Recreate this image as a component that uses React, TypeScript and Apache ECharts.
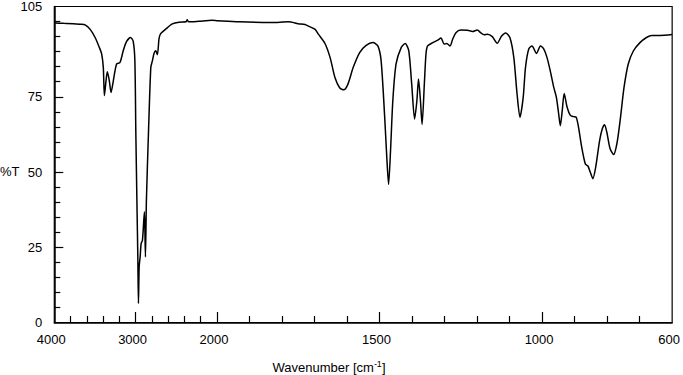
import React, { useEffect, useRef } from "react";
import * as echarts from "echarts";

// Spectrum (wavenumber in cm-1, transmittance in %T)
const wavenumbers = [
  3990, 3886, 3764, 3682, 3621, 3559, 3498, 3446, 3417, 3397, 3384, 3364, 3348, 3323, 3302, 3274,
  3234, 3192, 3152, 3112, 3063, 3030, 3009, 2997, 2984, 2972, 2965, 2956, 2944, 2932, 2916, 2899,
  2891, 2879, 2867, 2842, 2813, 2793, 2773, 2752, 2732, 2711, 2691, 2629, 2549, 2467, 2380, 2365,
  2350, 2222, 2059, 2000, 1933, 1832, 1780, 1750, 1729, 1719, 1698, 1688, 1668, 1652, 1637, 1622,
  1610, 1597, 1581, 1561, 1541, 1520, 1505, 1495, 1484, 1477, 1472, 1466, 1459, 1449, 1433, 1421,
  1410, 1401, 1392, 1385, 1380, 1374, 1369, 1362, 1357, 1352, 1336, 1321, 1311, 1301, 1293, 1283,
  1275, 1265, 1250, 1229, 1214, 1199, 1189, 1178, 1168, 1153, 1138, 1125, 1112, 1099, 1087, 1077,
  1068, 1058, 1051, 1041, 1031, 1017, 1005, 995, 985, 975, 964, 956, 949, 944, 938, 932,
  923, 913, 903, 895, 888, 878, 867, 859, 852, 844, 835, 823, 815, 808, 801, 791,
  780, 770, 760, 748, 735, 719, 699, 679, 663, 638, 600,
];
const transmittance = [
  99.5, 99.4, 99.3, 99.1, 98.9, 97.4, 94.7, 91.4, 89.2, 84.7, 75.4, 80.3, 83.3, 80.3, 76.4, 80.3,
  85.9, 86.4, 90.3, 93.3, 94.7, 93.5, 87, 62.8, 40.6, 20.7, 6.3, 18.6, 21.8, 26.2, 27.3, 34,
  36.8, 21.8, 40.6, 62.7, 84.7, 87, 89.5, 90.3, 89.0, 94.5, 96.0, 97.5, 99.2, 99.8, 99.9, 100.6,
  99.9, 100.1, 100.4, 100.3, 99.9, 99.7, 99.9, 99.3, 99.0, 98.5, 97.4, 95.8, 92.8, 88.1, 81.4, 77.9,
  77.3, 79.2, 84.7, 89.7, 92.1, 93, 91.9, 87, 68.2, 53.8, 45.9, 57.1, 73.7, 85.9, 91.4, 92.7,
  90.3, 79.3, 67.6, 73.7, 80.9, 73.7, 65.8, 79.4, 89.2, 91.9, 93, 93.8, 94.5, 92.5, 92.7, 91.9,
  94.1, 96.3, 97.2, 97.1, 96.7, 97.2, 96.3, 95.6, 95.8, 95, 92.8, 95.1, 96.2, 94.7, 88.1, 76,
  68.2, 74.9, 84.8, 90.9, 91.9, 89.4, 91.9, 90.9, 88.1, 83.7, 78.1, 74.8, 69.3, 65.4, 70.4, 76.1,
  71.5, 68.8, 68.4, 68.2, 64.9, 58.2, 52.7, 52, 50, 47.8, 51.7, 60.5, 64.3, 65.7, 63.3, 57.8,
  55.8, 59.4, 67.1, 78.1, 85.9, 90.3, 93, 94.7, 95.4, 95.4, 95.7,
];

const xLabelValues = [4000, 3000, 2000, 1500, 1000, 600];
const xMajorTickValues = [3000, 2000, 1500, 1000];
const xMinorTickValues = [
  3800, 3600, 3400, 3200, 2800, 2600, 2400, 2200, 1900, 1800, 1700, 1600, 1400, 1300, 1200, 1100,
  900, 800, 700,
];
const yLabelValues = [0, 25, 50, 75, 105];
const yMajorTickValues = [25, 50, 75];
const yMinorTickValues = [5, 10, 15, 20, 30, 35, 40, 45, 55, 60, 65, 70, 80, 85, 90, 95, 100];

// Wavenumber axis: the 4000–2000 range is compressed by a factor of 4.
const toAxis = (w: number) => (w >= 2000 ? (4000 - w) / 4 : 500 + (2000 - w));
const fromAxis = (t: number) => (t <= 500 ? 4000 - 4 * t : 2000 - (t - 500));

const FONT = "Liberation Sans, Arial, sans-serif";

export default function App() {
  const ref = useRef<HTMLDivElement>(null);
  useEffect(() => {
    if (!ref.current) return;
    const chart = echarts.init(ref.current, null, { renderer: "svg" });
    const axisMin = toAxis(4000);
    const axisMax = toAxis(600);
    const data = wavenumbers.map((w, i) => [toAxis(w), transmittance[i]]);
    chart.setOption({
      animation: false,
      grid: {
        left: 54.3,
        right: 8.7,
        top: 6,
        bottom: 52.5,
        show: true,
        borderColor: "#000",
        borderWidth: 1.2,
      },
      xAxis: [
        {
          type: "value",
          min: axisMin,
          max: axisMax,
          position: "bottom",
          splitLine: { show: false },
          axisLine: { show: true, lineStyle: { color: "#000", width: 1.5 } },
          axisTick: {
            show: true,
            inside: true,
            length: 6.5,
            lineStyle: { color: "#000", width: 1.2 },
            customValues: xMinorTickValues.map(toAxis),
          },
          axisLabel: {
            show: true,
            color: "#000",
            fontFamily: FONT,
            fontSize: 13,
            margin: 10,
            padding: [0, 6, 0, 0],
            customValues: xLabelValues.map(toAxis),
            formatter: (v: number) => String(Math.round(fromAxis(v))),
          },
        },
        {
          type: "value",
          min: axisMin,
          max: axisMax,
          position: "bottom",
          splitLine: { show: false },
          axisLine: { show: false },
          axisTick: {
            show: true,
            inside: true,
            length: 10.5,
            lineStyle: { color: "#000", width: 1.2 },
            customValues: xMajorTickValues.map(toAxis),
          },
          axisLabel: { show: false },
        },
      ],
      yAxis: [
        {
          type: "value",
          min: 0,
          max: 105,
          position: "left",
          splitLine: { show: false },
          axisLine: { show: true, lineStyle: { color: "#000", width: 1.5 } },
          axisTick: {
            show: true,
            inside: true,
            length: 6,
            lineStyle: { color: "#000", width: 1.2 },
            customValues: yMinorTickValues,
          },
          axisLabel: {
            show: true,
            color: "#000",
            fontFamily: FONT,
            fontSize: 13,
            margin: 12,
            customValues: yLabelValues,
          },
        },
        {
          type: "value",
          min: 0,
          max: 105,
          position: "left",
          splitLine: { show: false },
          axisLine: { show: false },
          axisTick: {
            show: true,
            inside: true,
            length: 9,
            lineStyle: { color: "#000", width: 1.2 },
            customValues: yMajorTickValues,
          },
          axisLabel: { show: false },
        },
      ],
      graphic: [
        {
          type: "text",
          left: 0,
          top: 165,
          style: { text: "%T", fontFamily: FONT, fontSize: 13, fill: "#000" },
        },
        {
          type: "text",
          x: 329,
          y: 367,
          style: {
            text: "Wavenumber [cm{sup|-1}]",
            fontFamily: FONT,
            fontSize: 13,
            fill: "#000",
            align: "center",
            verticalAlign: "middle",
            rich: {
              sup: {
                fontFamily: FONT,
                fontSize: 9,
                fill: "#000",
                padding: [0, 0, 7, 0],
              },
            },
          },
        },
      ],
      series: [
        {
          type: "line",
          xAxisIndex: 0,
          yAxisIndex: 0,
          data,
          showSymbol: false,
          smooth: 0.25,
          lineStyle: { color: "#000", width: 1.5 },
          silent: true,
        },
      ],
    });
    return () => chart.dispose();
  }, []);
  return (
    <div
      ref={ref}
      style={{ position: "absolute", left: 0, top: 0, width: 683, height: 375, background: "#fff" }}
    />
  );
}
